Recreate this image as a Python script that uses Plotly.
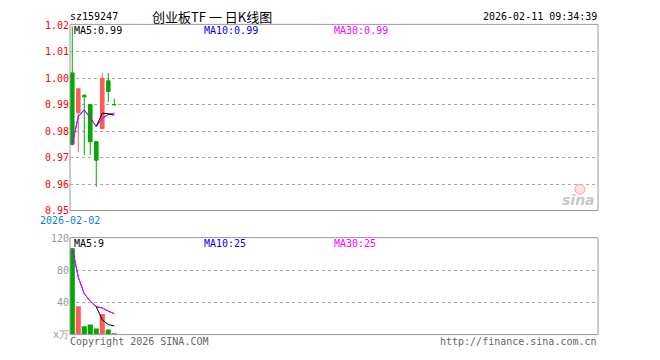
import plotly.graph_objects as go

# ---- data ----
dates = ["2026-02-02", "2026-02-03", "2026-02-04", "2026-02-05",
         "2026-02-06", "2026-02-09", "2026-02-10", "2026-02-11"]
opens = [1.002, 0.987, 0.9935, 0.990, 0.976, 0.981, 0.999, 0.990]
highs = [1.0195, 0.996, 0.994, 0.990, 0.976, 1.002, 1.002, 0.9923]
lows = [0.9747, 0.972, 0.971, 0.971, 0.959, 0.981, 0.991, 0.990]
closes = [0.975, 0.996, 0.993, 0.976, 0.969, 1.000, 0.995, 0.990]
volumes = [108, 35.5, 10.4, 12.8, 7.6, 25.8, 6.4, 2.0]

price_ticks = [0.95, 0.96, 0.97, 0.98, 0.99, 1.00, 1.01, 1.02]
vol_ticks = [0, 40, 80, 120]
vol_tick_text = ["x万", "40", "80", "120"]

title_code = "sz159247"
title_name = "创业板TF 一 日K线图"
timestamp = "2026-02-11 09:34:39"
price_ma_labels = ["MA5:0.99", "MA10:0.99", "MA30:0.99"]
vol_ma_labels = ["MA5:9", "MA10:25", "MA30:25"]

RED = "#ff5a5a"
GREEN = "#00a800"
MA_COLORS = ["#000000", "#0000ff", "#ff00ff"]


def ma(vals, n, strict):
    out = []
    for i in range(len(vals)):
        if strict and i < n - 1:
            out.append(None)
        else:
            w = vals[max(0, i - n + 1):i + 1]
            out.append(sum(w) / len(w))
    return out


xs = list(range(len(dates)))
W, H = 660, 360
X0, X1 = 70, 598
PT, PB = 20, 212
VT, VB = 240, 340


def px(x):
    return x / W


def py(y):
    return 1 - y / H


fig = go.Figure()

fig.add_trace(go.Candlestick(
    x=xs, open=opens, high=highs, low=lows, close=closes,
    increasing=dict(line=dict(color=RED, width=1), fillcolor=RED),
    decreasing=dict(line=dict(color=GREEN, width=1), fillcolor=GREEN),
    whiskerwidth=0, xaxis="x", yaxis="y", showlegend=False, hoverinfo="skip"))

for n, col, strict in [(10, MA_COLORS[1], False), (30, MA_COLORS[2], False), (5, MA_COLORS[0], True)]:
    fig.add_trace(go.Scatter(x=xs, y=ma(closes, n, strict), mode="lines",
                             line=dict(color=col, width=1), xaxis="x", yaxis="y",
                             showlegend=False, hoverinfo="skip"))

bar_colors = [RED if c >= o else GREEN for o, c in zip(opens, closes)]
fig.add_trace(go.Bar(x=xs, y=volumes, marker=dict(color=bar_colors, line=dict(width=0)),
                     width=0.85, xaxis="x2", yaxis="y2", showlegend=False, hoverinfo="skip"))
for n, col, strict in [(10, MA_COLORS[1], False), (30, MA_COLORS[2], False), (5, MA_COLORS[0], True)]:
    fig.add_trace(go.Scatter(x=xs, y=ma(volumes, n, strict), mode="lines",
                             line=dict(color=col, width=1), xaxis="x2", yaxis="y2",
                             showlegend=False, hoverinfo="skip"))

xr = [-0.38, 87.62]
mono = "DejaVu Sans Mono"

fig.update_layout(
    width=W, height=H, margin=dict(l=0, r=0, t=0, b=0, pad=0),
    autosize=False,
    paper_bgcolor="white", plot_bgcolor="white",
    boxgap=0.15,
    xaxis=dict(domain=[px(X0), px(X1)], range=xr, showticklabels=False, showgrid=False,
               zeroline=False, rangeslider=dict(visible=False), fixedrange=True, anchor="y"),
    yaxis=dict(domain=[py(PB), py(PT)], range=[0.95, 0.95 + (PB - PT) / 2730.0],
               tickvals=price_ticks, tickformat=".2f",
               tickfont=dict(family=mono, size=10, color="#ff0000"),
               showgrid=True, gridcolor="#aaaaaa", griddash="dot", gridwidth=1,
               zeroline=False, ticks="", anchor="x"),
    xaxis2=dict(domain=[px(X0), px(X1)], range=xr, showticklabels=False, showgrid=False,
                zeroline=False, anchor="y2"),
    yaxis2=dict(domain=[py(VB), py(VT)], range=[0, (VB - VT) / 33.0 * 40],
                tickvals=vol_ticks, ticktext=vol_tick_text,
                tickfont=dict(family=mono, size=10, color="#999999"),
                showgrid=True, gridcolor="#aaaaaa", griddash="dot", gridwidth=1,
                zeroline=False, ticks="", anchor="x2"),
)

# borders
for (t, b) in [(PT, PB), (VT, VB)]:
    fig.add_shape(type="rect", xref="paper", yref="paper",
                  x0=px(X0), x1=px(X1), y0=py(b), y1=py(t),
                  line=dict(color="#999999", width=1), fillcolor="rgba(0,0,0,0)")


def txt(x, y, s, color="#000", size=10, family=mono, xanchor="left", **kw):
    fig.add_annotation(xref="paper", yref="paper", x=px(x), y=py(y), text=s,
                       showarrow=False, xanchor=xanchor, yanchor="middle",
                       font=dict(family=family, size=size, color=color), **kw)


txt(68, 12, title_code, size=10)
txt(150, 12, title_name, size=13, family="Noto Sans CJK SC")
txt(599, 12, timestamp, size=10, xanchor="right")

for xpos, label, col in zip([72, 202, 332], price_ma_labels, MA_COLORS):
    txt(xpos, 26, label, color=col)
for xpos, label, col in zip([72, 202, 332], vol_ma_labels, MA_COLORS):
    txt(xpos, 246, label, color=col)

txt(38, 222, dates[0], color="#0a7fd0")
txt(68, 347, "Copyright 2026 SINA.COM", color="#666666")
txt(599, 347, "http://finance.sina.com.cn", color="#666666", xanchor="right")

# sina watermark
txt(597, 201, "<b><i>sina</i></b>", color="#c8c8c8", size=14, family="DejaVu Sans", xanchor="right")
fig.add_shape(type="circle", xref="paper", yref="paper",
              x0=px(575), x1=px(585), y0=py(195), y1=py(185),
              line=dict(color="#f4a0a0", width=1), fillcolor="rgba(255,180,180,0.4)")

css_js = (
    "document.documentElement.style.margin='0';"
    "document.documentElement.style.overflow='hidden';"
    "document.body.style.margin='0';document.body.style.padding='0';"
    "document.body.style.overflow='hidden';"
    "var gd=document.getElementById('{plot_id}');"
    "gd.style.position='absolute';gd.style.left='0px';gd.style.top='0px';"
)
fig.write_html("out.html", post_script=css_js,
               config={"displayModeBar": False, "responsive": False, "staticPlot": True})
